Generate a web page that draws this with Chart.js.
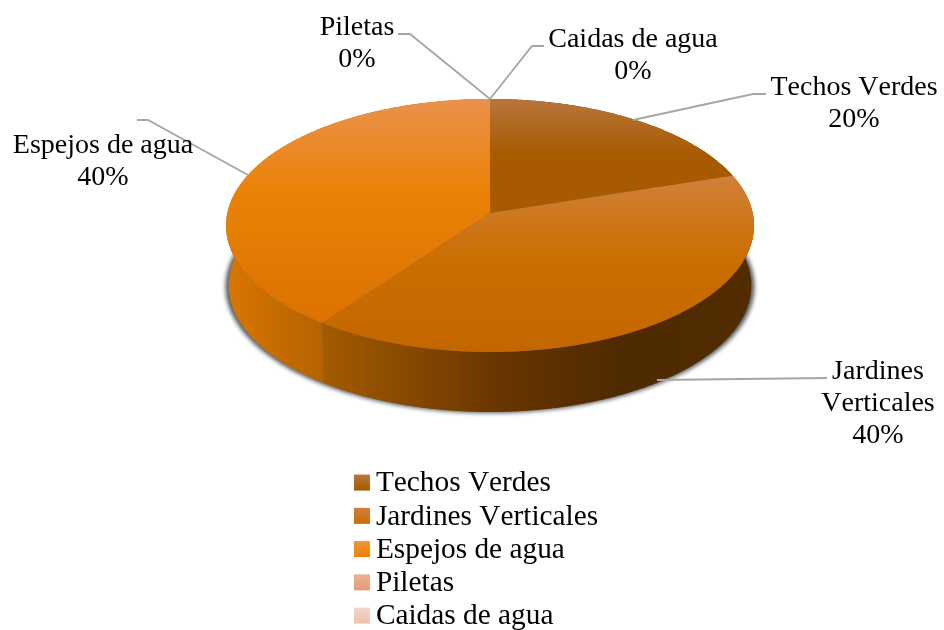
<!DOCTYPE html>
<html>
<head>
<meta charset="utf-8">
<style>html,body{margin:0;padding:0;background:#fff}canvas{display:block}</style>
<script src="https://cdn.jsdelivr.net/npm/chart.js@4"></script>
</head>
<body>
<canvas id="c" width="944" height="630"></canvas>
<script>
const categories = ['Techos Verdes', 'Jardines Verticales', 'Espejos de agua', 'Piletas', 'Caidas de agua'];
const values = [20, 40, 40, 0, 0];

// Style: top-face gradient stops per slice
const baseColors = ['#a85a00', '#c96c00', '#eb8207', '#e59a70', '#eec0ac'];
const faceStops = [
  [[99, '#b9763c'], [155, '#a85a00']],
  [[176, '#d08039'], [262, '#cb6e00'], [352, '#c36600']],
  [[99, '#e9924c'], [190, '#eb8207'], [322, '#dc7200']],
  [], []
];
const wallStops = [
  [[490, '#5a3000'], [740, '#5a3000']],
  [[322, '#a35c00'], [440, '#7c4200'], [510, '#653400'], [620, '#4f2a00'], [752, '#532c00']],
  [[229, '#d87500'], [322, '#b56300']],
  [], []
];
const swatchStops = [
  ['#b9763c', '#a85a00'], ['#cf8040', '#c96c00'], ['#ef9636', '#eb8207'],
  ['#edb294', '#e59a70'], ['#f5d6c9', '#eec0ac']
];
// Callouts: text centre x, line centres y, leader-line polyline
const calloutText = [
  {x: 854, lines: ['Techos Verdes'], y: 88},
  {x: 878, lines: ['Jardines', 'Verticales'], y: 372},
  {x: 103, lines: ['Espejos de agua'], y: 146},
  {x: 357, lines: ['Piletas'], y: 28},
  {x: 633, lines: ['Caidas de agua'], y: 40}
];
const calloutLines = [
  [[766, 94], [753, 94], [633, 120]],
  [[827, 378], [657, 380]],
  [[137, 120], [148, 120], [248, 175]],
  [[398, 34], [410, 34], [490, 99]],
  [[544, 46], [532, 46], [490, 99]]
];
const FONT = '"Liberation Serif", "Times New Roman", serif';
const LEGEND_TOP = 465;

// Perspective projection of the unit disc on to the tilted pie
const CX = 490, APEX = 213, A = 262.7, B = 125.3, K = 0.0988, DEPTH = 60, NARROW = 0.99;
function project(angle, r, bottom) {
  const u = r * Math.cos(angle), v = r * Math.sin(angle), d = 1 - K * v;
  return [CX + A * u / d * (bottom ? NARROW : 1), APEX + B * v / d + (bottom ? DEPTH : 0)];
}
function arcPoints(a0, a1, bottom) {
  const n = Math.max(2, Math.ceil(Math.abs(a1 - a0) / 0.01)), pts = [];
  for (let i = 0; i <= n; i++) pts.push(project(a0 + (a1 - a0) * i / n, 1, bottom));
  return pts;
}
function tracePts(ctx, pts, move) {
  pts.forEach((p, i) => (i === 0 && move) ? ctx.moveTo(p[0], p[1]) : ctx.lineTo(p[0], p[1]));
}
function gradient(ctx, x0, y0, x1, y1, stops, lo, hi) {
  const g = ctx.createLinearGradient(x0, y0, x1, y1);
  stops.forEach(s => g.addColorStop(Math.min(1, Math.max(0, (s[0] - lo) / (hi - lo))), s[1]));
  return g;
}

const pie3d = {
  id: 'pie3d',
  afterLayout(chart) {
    const lg = chart.legend, h = lg.height;
    lg.top = LEGEND_TOP;
    lg.bottom = LEGEND_TOP + h;
    lg.adjustHitBoxes();
  },
  beforeDraw(chart) {
    chart.ctx.fontKerning = 'none';
  },
  beforeDatasetsDraw(chart) {
    const ctx = chart.ctx, arcs = chart.getDatasetMeta(0).data;
    ctx.save();
    // soft shadow under the body
    ctx.save();
    ctx.filter = 'blur(2px)';
    ctx.fillStyle = '#555b60';
    ctx.beginPath();
    tracePts(ctx, arcPoints(0, Math.PI * 2, true).map(p => [CX + (p[0] - CX) * 1.012, p[1] + 1]), true);
    ctx.closePath();
    ctx.fill();
    ctx.restore();
    // side walls
    arcs.forEach((el, i) => {
      if (el.endAngle - el.startAngle <= 0 || !wallStops[i].length) return;
      const lo = wallStops[i][0][0], hi = wallStops[i][wallStops[i].length - 1][0];
      ctx.fillStyle = gradient(ctx, lo, 0, hi, 0, wallStops[i], lo, hi);
      ctx.beginPath();
      tracePts(ctx, arcPoints(el.startAngle, el.endAngle, false), true);
      tracePts(ctx, arcPoints(el.endAngle, el.startAngle, true), false);
      ctx.closePath();
      ctx.fill();
    });
    // top faces
    arcs.forEach((el, i) => {
      if (el.endAngle - el.startAngle <= 0 || !faceStops[i].length) return;
      const lo = faceStops[i][0][0], hi = faceStops[i][faceStops[i].length - 1][0];
      ctx.fillStyle = gradient(ctx, 0, lo, 0, hi, faceStops[i], lo, hi);
      ctx.beginPath();
      ctx.moveTo(CX, APEX);
      tracePts(ctx, arcPoints(el.startAngle, el.endAngle, false), false);
      ctx.closePath();
      ctx.fill();
    });
    ctx.restore();
    return false;
  },
  afterDraw(chart) {
    const ctx = chart.ctx;
    ctx.save();
    // leader lines
    ctx.strokeStyle = '#a6a6a6';
    ctx.lineWidth = 1.8;
    calloutLines.forEach(pts => {
      ctx.beginPath();
      tracePts(ctx, pts, true);
      ctx.stroke();
    });
    // data labels
    const total = values.reduce((a, b) => a + b, 0);
    ctx.fillStyle = '#000';
    ctx.font = '28px ' + FONT;
    ctx.fontKerning = 'none';
    ctx.textAlign = 'center';
    ctx.textBaseline = 'middle';
    calloutText.forEach((c, i) => {
      const rows = c.lines.concat([Math.round(values[i] / total * 100) + '%']);
      rows.forEach((t, j) => ctx.fillText(t, c.x, c.y + j * 32));
    });
    // legend swatches
    const lg = chart.legend, pad = lg.options.labels.padding;
    lg.legendHitBoxes.forEach((b, i) => {
      const top = b.top + (b.height - 16) / 2 - 1, left = lg.left + pad;
      const g = ctx.createLinearGradient(0, top, 0, top + 16);
      g.addColorStop(0, swatchStops[i][0]);
      g.addColorStop(1, swatchStops[i][1]);
      ctx.fillStyle = g;
      ctx.fillRect(left, top, 16, 16);
    });
    ctx.restore();
  }
};

new Chart(document.getElementById('c'), {
  type: 'pie',
  data: {
    labels: categories,
    datasets: [{data: values, backgroundColor: baseColors, borderWidth: 0}]
  },
  plugins: [pie3d],
  options: {
    responsive: false,
    animation: false,
    layout: {padding: {left: 350, top: 440, right: 330, bottom: 0}},
    plugins: {
      tooltip: {enabled: false},
      legend: {
        position: 'chartArea',
        align: 'start',
        labels: {
          boxWidth: 7.3,
          boxHeight: 8,
          padding: 3.92,
          color: '#000',
          font: {family: FONT, size: 29.33},
          generateLabels: c => c.data.labels.map((text, i) => ({
            text, fillStyle: 'transparent', strokeStyle: 'transparent', lineWidth: 0, index: i, fontColor: '#000'
          }))
        }
      }
    }
  }
});
</script>
</body>
</html>
